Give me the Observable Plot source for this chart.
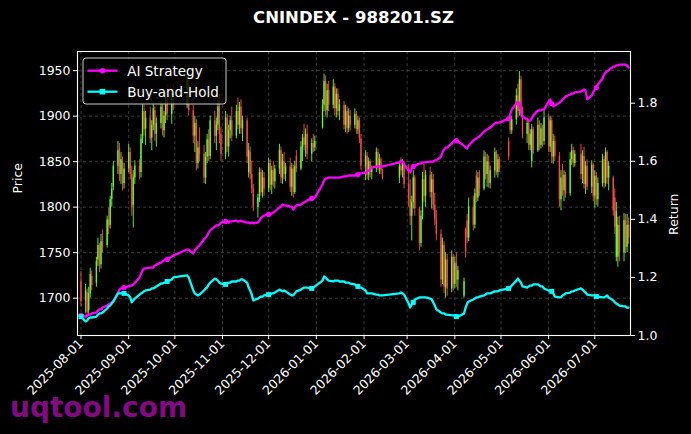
<!DOCTYPE html>
<html><head><meta charset="utf-8">
<script src="https://cdn.jsdelivr.net/npm/d3@7"></script>
<script src="https://cdn.jsdelivr.net/npm/@observablehq/plot@0.6"></script>
<style>
html,body{margin:0;padding:0;background:#000;}
#wrap{position:relative;width:691px;height:434px;background:#000;overflow:hidden;font-family:"DejaVu Sans",sans-serif;}
#title{position:absolute;left:77px;top:8px;width:553px;text-align:center;color:#fff;font-weight:bold;font-size:16.5px;line-height:20px;}
.layer{position:absolute;left:0;top:0;}
#chart{position:absolute;left:0;top:34px;}
</style></head>
<body><div id="wrap">
<svg class="layer" width="691" height="434"><text x="10" y="417" font-family="DejaVu Sans" font-weight="bold" font-size="28" fill="#840a84">uqtool.com</text></svg>
<div id="title">CNINDEX - 988201.SZ</div>
<div id="chart"></div>
</div>
<script>
// ---- calendar ----
const firstDay = "2025-08-01";
const lastDay = "2026-07-23";
const holidays = ["2025-10-01","2025-10-02","2025-10-03","2025-10-06","2025-10-07","2025-10-08",
  "2026-01-01","2026-01-02","2026-02-16","2026-02-17","2026-02-18","2026-02-19","2026-02-20","2026-02-23",
  "2026-04-06","2026-05-01","2026-05-04","2026-05-05","2026-06-19"];

// ---- daily OHLC (price) ----
const opens = [
1718,1697,1706,1686,1705,1724,1716,1742,1756,1737,1762,1758,1786,1780,1808,1822,1845,1864,1836,1850,1826,
1842,1860,1836,1802,1832,1845,1838,1876,1905,1886,1898,1876,1890,1906,1880,1892,1910,1884,1900,1920,1902,1925,
1912,1940,1906,1878,1892,1848,1865,1858,1832,1855,1874,1856,1895,1878,1890,1910,1880,
1858,1898,1866,1884,1895,1878,1905,1890,1910,1886,1895,1838,1860,1836,1820,1800,1808,1838,1816,1832,
1820,1848,1824,1840,1828,1842,1862,1832,1850,1836,1844,1822,1842,1816,1856,1842,1866,1876,1868,1880,1858,1870,1865,
1887,1912,1938,1906,1928,1912,1932,1908,1924,1905,1912,1890,1905,1886,1900,1890,1902,1885,1895,1875,
1845,1856,1835,1850,1838,1842,1860,1845,1852,1838,1832,1845,1840,1848,
1825,1808,1790,1805,1832,1798,1760,1790,1830,1812,1835,1816,1830,1802,1786,1770,1720,1758,1712,1742,1710,1745,
1715,1738,1720,1702,1775,1785,1766,1800,1780,1834,1810,1832,1820,1855,1836,1850,1826,1840,1860,1838,1852,
1872,1898,1884,1896,1922,1905,1940,1905,1880,1892,1868,1850,1885,1862,1890,1868,1886,1872,
1898,1866,1895,1855,1872,1856,1808,1832,1818,1835,1815,1852,1862,1848,1858,1836,1856,1825,1845,1822,1846,
1812,1834,1808,1826,1852,1826,1860,1832,1832,1810,1745,1745,1780,1750,1785,1756,1780];
const highs = [
1729,1715,1710,1712,1733,1730,1745,1766,1760,1770,1775,1790,1799,1812,1826,1850,1872,1870,1860,1855,1848,
1869,1865,1845,1840,1851,1852,1880,1913,1912,1905,1910,1895,1913,1910,1898,1916,1914,1905,1925,1935,1930,1935,
1949,1946,1912,1900,1896,1872,1887,1868,1860,1880,1885,1900,1905,1898,1918,1924,1888,
1905,1902,1890,1900,1910,1912,1920,1915,1918,1900,1898,1870,1866,1850,1825,1814,1843,1842,1840,1838,
1854,1852,1845,1850,1846,1869,1866,1858,1860,1848,1854,1848,1846,1850,1862,1872,1880,1891,1886,1890,1875,1880,1878,
1918,1946,1944,1935,1938,1940,1936,1930,1930,1918,1916,1912,1910,1908,1906,1908,1905,1900,1898,1880,
1862,1860,1854,1852,1845,1865,1864,1858,1854,1842,1850,1854,1852,1850,
1847,1830,1812,1840,1835,1800,1796,1838,1847,1840,1844,1838,1836,1815,1796,1775,1766,1762,1750,1748,1752,1748,
1745,1750,1735,1722,1777,1792,1810,1812,1820,1840,1838,1840,1862,1860,1858,1856,1845,1865,1862,1858,1855,
1876,1899,1900,1930,1935,1949,1944,1910,1898,1895,1885,1891,1888,1898,1895,1892,1890,1905,
1902,1900,1898,1880,1878,1860,1840,1847,1840,1838,1860,1869,1866,1862,1869,1862,1866,1850,1852,1851,1848,
1840,1838,1832,1858,1856,1865,1862,1850,1834,1820,1805,1789,1790,1793,1792,1792,1788];
const lows = [
1690,1683,1678,1680,1700,1708,1712,1735,1728,1732,1750,1755,1770,1776,1800,1818,1836,1828,1825,1818,1820,
1838,1830,1790,1777,1825,1830,1832,1870,1878,1868,1870,1862,1884,1872,1866,1886,1878,1876,1892,1895,1891,1906,
1908,1900,1870,1860,1840,1842,1850,1826,1825,1848,1850,1852,1870,1862,1884,1870,1850,
1852,1860,1855,1875,1872,1875,1885,1880,1880,1872,1848,1832,1830,1815,1795,1788,1805,1812,1810,1812,
1816,1818,1814,1822,1820,1836,1826,1825,1830,1828,1816,1812,1810,1814,1838,1840,1850,1862,1855,1852,1850,1860,1861,
1886,1905,1900,1898,1905,1908,1900,1898,1900,1895,1885,1882,1880,1882,1884,1886,1880,1880,1870,1840,
1829,1830,1829,1832,1830,1838,1840,1836,1836,1830,1826,1835,1832,1820,
1800,1780,1763,1798,1790,1752,1756,1786,1805,1800,1810,1798,1796,1780,1763,1712,1715,1705,1700,1702,1706,1708,
1710,1712,1708,1700,1744,1760,1762,1774,1776,1805,1806,1812,1818,1830,1822,1821,1820,1832,1835,1832,1838,
1851,1880,1880,1890,1898,1900,1898,1875,1870,1862,1862,1843,1858,1860,1862,1864,1866,1868,
1860,1860,1848,1847,1850,1800,1796,1812,1806,1810,1812,1846,1843,1844,1830,1826,1820,1814,1818,1815,1806,
1799,1802,1800,1822,1820,1822,1825,1818,1790,1770,1740,1734,1740,1740,1749,1750,1759];
const closes = [
1696,1708,1684,1705,1726,1714,1740,1758,1735,1762,1756,1786,1778,1808,1820,1845,1862,1835,1852,1825,1842,
1860,1836,1800,1832,1845,1838,1875,1905,1885,1898,1875,1890,1908,1880,1892,1910,1884,1900,1920,1902,1925,1912,
1940,1906,1878,1892,1848,1865,1858,1832,1855,1874,1856,1895,1878,1890,1910,1880,1858,
1898,1866,1884,1895,1878,1905,1890,1910,1886,1895,1855,1862,1836,1820,1800,1810,1838,1816,1832,1820,
1848,1824,1840,1828,1842,1862,1832,1850,1836,1844,1822,1842,1816,1845,1842,1866,1876,1868,1880,1858,1870,1865,1872,
1912,1938,1906,1928,1912,1932,1908,1924,1905,1912,1890,1905,1886,1900,1890,1902,1885,1895,1875,1845,
1856,1835,1850,1838,1842,1860,1845,1852,1840,1832,1845,1840,1848,1825,
1808,1790,1805,1832,1798,1760,1790,1830,1812,1835,1816,1830,1802,1786,1770,1720,1758,1712,1742,1710,1745,1715,
1738,1720,1730,1718,1750,1766,1800,1780,1815,1810,1832,1820,1855,1836,1850,1826,1840,1860,1838,1852,1842,
1855,1884,1896,1922,1905,1940,1905,1880,1892,1868,1880,1885,1862,1890,1868,1886,1872,1898,
1866,1895,1855,1872,1856,1808,1832,1818,1835,1815,1852,1862,1848,1858,1836,1856,1825,1845,1822,1846,1812,
1834,1808,1826,1852,1826,1860,1832,1845,1796,1778,1795,1780,1750,1785,1756,1780,1766];

// ---- cumulative returns (right axis) ----
const aiStrategy = [
1.069,1.065,1.069,1.072,1.072,1.076,1.079,1.086,1.090,1.090,1.096,1.103,1.107,1.110,1.114,1.117,1.145,1.158,1.162,1.165,1.165,
1.169,1.172,1.172,1.176,1.182,1.200,1.213,1.224,1.231,1.231,1.234,1.234,1.234,1.241,1.244,1.251,1.255,1.258,1.262,1.262,1.272,1.275,
1.296,1.296,1.282,1.293,1.300,1.306,1.310,1.331,1.337,1.344,1.355,1.362,1.375,1.379,1.379,1.382,1.389,
1.393,1.393,1.389,1.393,1.393,1.396,1.393,1.393,1.396,1.393,1.389,1.389,1.386,1.389,1.386,1.389,1.396,1.406,1.410,1.413,
1.417,1.417,1.420,1.424,1.427,1.441,1.444,1.451,1.448,1.448,1.444,1.444,1.434,1.441,1.448,1.451,1.455,1.458,1.461,1.465,1.472,1.472,1.475,
1.520,1.534,1.541,1.541,1.544,1.544,1.544,1.544,1.544,1.544,1.548,1.548,1.548,1.551,1.551,1.551,1.554,1.554,1.558,1.558,
1.561,1.565,1.568,1.572,1.578,1.582,1.582,1.582,1.582,1.582,1.596,1.603,1.599,1.589,
1.568,1.561,1.575,1.582,1.585,1.592,1.592,1.596,1.596,1.596,1.599,1.599,1.599,1.603,1.603,1.616,1.630,1.640,1.647,1.647,1.661,1.668,
1.671,1.671,1.668,1.654,1.647,1.644,1.654,1.671,1.675,1.678,1.682,1.685,1.702,1.706,1.709,1.713,1.716,1.730,1.733,1.733,1.733,
1.747,1.761,1.778,1.799,1.806,1.799,1.768,1.754,1.744,1.740,1.740,1.747,1.758,1.775,1.775,1.775,1.778,1.778,
1.806,1.813,1.799,1.789,1.792,1.802,1.806,1.813,1.816,1.823,1.830,1.833,1.833,1.837,1.840,1.844,1.847,1.844,1.813,1.826,1.837,
1.847,1.854,1.864,1.885,1.899,1.906,1.909,1.913,1.926,1.926,1.930,1.930,1.933,1.933,1.933,1.930,1.923];
const buyAndHold = [
1.065,1.048,1.052,1.059,1.062,1.062,1.065,1.072,1.076,1.076,1.079,1.093,1.100,1.103,1.110,1.117,1.145,1.145,1.145,1.148,1.145,
1.138,1.131,1.114,1.121,1.127,1.141,1.145,1.148,1.152,1.155,1.158,1.162,1.162,1.165,1.169,1.179,1.179,1.182,1.182,1.186,1.193,1.200,
1.207,1.200,1.155,1.145,1.141,1.138,1.141,1.155,1.162,1.165,1.176,1.182,1.196,1.193,1.189,1.182,1.179,
1.176,1.179,1.182,1.182,1.186,1.186,1.189,1.189,1.193,1.193,1.182,1.165,1.155,1.141,1.121,1.127,1.131,1.134,1.134,1.138,
1.141,1.141,1.145,1.145,1.148,1.158,1.155,1.152,1.155,1.152,1.141,1.138,1.138,1.145,1.152,1.158,1.162,1.165,1.165,1.165,1.162,1.165,1.169,
1.189,1.203,1.200,1.193,1.189,1.186,1.189,1.189,1.189,1.186,1.186,1.182,1.182,1.182,1.179,1.176,1.172,1.169,1.165,1.165,
1.155,1.145,1.145,1.145,1.145,1.141,1.141,1.138,1.138,1.138,1.145,1.148,1.145,1.141,
1.110,1.096,1.107,1.114,1.124,1.131,1.131,1.131,1.131,1.131,1.127,1.124,1.114,1.103,1.090,1.079,1.076,1.076,1.072,1.072,1.069,1.069,
1.069,1.065,1.065,1.076,1.096,1.110,1.117,1.124,1.127,1.131,1.131,1.134,1.138,1.141,1.145,1.145,1.145,1.152,1.152,1.152,1.155,
1.162,1.165,1.172,1.189,1.196,1.189,1.182,1.169,1.165,1.169,1.172,1.172,1.176,1.176,1.172,1.169,1.169,1.162,
1.155,1.155,1.152,1.145,1.134,1.131,1.131,1.138,1.141,1.145,1.148,1.152,1.152,1.155,1.162,1.158,1.152,1.148,1.141,1.138,1.138,
1.138,1.134,1.134,1.131,1.131,1.134,1.138,1.131,1.121,1.114,1.110,1.107,1.103,1.100,1.100,1.096,1.096];

// ---- axes ----
const priceTicks = [1700, 1750, 1800, 1850, 1900, 1950];
const returnTicks = [1.0, 1.2, 1.4, 1.6, 1.8];
const monthTicks = ["2025-08-01","2025-09-01","2025-10-01","2025-11-01","2025-12-01","2026-01-01",
  "2026-02-01","2026-03-01","2026-04-01","2026-05-01","2026-06-01","2026-07-01"];
const priceDomain = [1659, 1971];
const returnDomain = [1.0, 1.978];
const seriesNames = ["AI Strategy", "Buy-and-Hold"];
const seriesColors = ["#ff00ff", "#00ffff"];

// build trading calendar
const hol = new Set(holidays);
const dates = [];
for (let d = new Date(firstDay + "T00:00:00Z"); d <= new Date(lastDay + "T00:00:00Z"); d.setUTCDate(d.getUTCDate() + 1)) {
  const w = d.getUTCDay(), s = d.toISOString().slice(0, 10);
  if (w !== 0 && w !== 6 && !hol.has(s)) dates.push(new Date(d));
}
if (dates.length !== closes.length) console.error("length mismatch", dates.length, closes.length);

const rows = dates.map((date, i) => ({date, open: opens[i], high: highs[i], low: lows[i], close: closes[i],
  ai: aiStrategy[i], bh: buyAndHold[i], i}));

const [P0, P1] = priceDomain, [R0, R1] = returnDomain;
const toPrice = r => P0 + (r - R0) * (P1 - P0) / (R1 - R0);
const toReturn = p => R0 + (p - P0) * (R1 - R0) / (P1 - P0);
const up = "#66ff33", down = "#ff4d4d";
const candleColor = d => d.close >= d.open ? up : down;
const mticks = monthTicks.map(s => new Date(s + "T00:00:00Z"));
const markerRows = rows.filter(d => d.i % 20 === 0);

const chart = Plot.plot({
  width: 691, height: 400,
  marginTop: 17, marginBottom: 99, marginLeft: 77, marginRight: 61,
  style: {background: "transparent", color: "white", fontFamily: "DejaVu Sans", fontSize: "12.5px"},
  x: {type: "utc", domain: [new Date("2025-07-29T17:30:00Z"), new Date("2026-07-24T05:00:00Z")]},
  y: {domain: priceDomain},
  color: {type: "identity"},
  marks: [
    Plot.gridY(priceTicks, {stroke: "#777", strokeOpacity: 0.7, strokeDasharray: "3,3", strokeWidth: 0.7}),
    Plot.gridX(mticks, {stroke: "#777", strokeOpacity: 0.7, strokeDasharray: "3,3", strokeWidth: 0.7}),
    Plot.ruleX(rows, {x: "date", y1: "low", y2: "high", stroke: candleColor, strokeWidth: 1, strokeOpacity: 0.9}),
    Plot.ruleX(rows, {x: "date", y1: "open", y2: "close", stroke: candleColor, strokeWidth: 1.4, strokeOpacity: 0.9}),
    Plot.line(rows, {x: "date", y: d => toPrice(d.ai), stroke: seriesColors[0], strokeWidth: 2.3}),
    Plot.line(rows, {x: "date", y: d => toPrice(d.bh), stroke: seriesColors[1], strokeWidth: 2.3}),
    Plot.dot(markerRows, {x: "date", y: d => toPrice(d.ai), r: 2.6, fill: seriesColors[0], stroke: "none"}),
    Plot.dot(markerRows, {x: "date", y: d => toPrice(d.bh), r: 2.8, symbol: "square", fill: seriesColors[1], stroke: "none"}),
    Plot.frame({stroke: "white", strokeWidth: 1.1}),
    Plot.axisY(priceTicks, {anchor: "left", tickSize: 4, tickPadding: 3, label: null, stroke: "white",
      tickFormat: d => String(d)}),
    Plot.axisY(returnTicks.map(toPrice), {anchor: "right", tickSize: 4, tickPadding: 3, label: null,
      tickFormat: p => toReturn(p).toFixed(1), stroke: "white"}),
    Plot.axisX(mticks, {tickSize: 4, tickPadding: 2, tickRotate: -45, label: null,
      tickFormat: d3.utcFormat("%Y-%m-%d"), stroke: "white"}),
    Plot.text(["Price"], {frameAnchor: "left", dx: -60, rotate: -90, fill: "white", fontSize: 12.5}),
    Plot.text(["Return"], {frameAnchor: "right", dx: 43, rotate: -90, fill: "white", fontSize: 12.5})
  ]
});
document.getElementById("chart").appendChild(chart);

// legend (drawn over the axes, upper-left)
const NS = "http://www.w3.org/2000/svg";
const lg = document.createElementNS(NS, "svg");
lg.setAttribute("class", "layer"); lg.setAttribute("width", 691); lg.setAttribute("height", 434);
const box = document.createElementNS(NS, "rect");
Object.entries({x: 83, y: 58, width: 143, height: 46, rx: 3, fill: "#000", "fill-opacity": 0.8, stroke: "#cccccc", "stroke-width": 1})
  .forEach(([k, v]) => box.setAttribute(k, v));
lg.appendChild(box);
seriesNames.forEach((name, k) => {
  const cy = 70.7 + k * 21;
  const ln = document.createElementNS(NS, "line");
  Object.entries({x1: 87.5, x2: 117.5, y1: cy, y2: cy, stroke: seriesColors[k], "stroke-width": 2.3}).forEach(([a, v]) => ln.setAttribute(a, v));
  lg.appendChild(ln);
  let mk;
  if (k === 0) { mk = document.createElementNS(NS, "circle"); mk.setAttribute("cx", 102.5); mk.setAttribute("cy", cy); mk.setAttribute("r", 2.8); }
  else { mk = document.createElementNS(NS, "rect"); mk.setAttribute("x", 99.7); mk.setAttribute("y", cy - 2.8); mk.setAttribute("width", 5.6); mk.setAttribute("height", 5.6); }
  mk.setAttribute("fill", seriesColors[k]);
  lg.appendChild(mk);
  const tx = document.createElementNS(NS, "text");
  tx.setAttribute("x", 127.3); tx.setAttribute("y", cy + 4.8);
  tx.setAttribute("fill", "white"); tx.setAttribute("font-family", "DejaVu Sans"); tx.setAttribute("font-size", 13.5);
  tx.textContent = name;
  lg.appendChild(tx);
});
document.getElementById("wrap").appendChild(lg);
</script>
</body></html>
